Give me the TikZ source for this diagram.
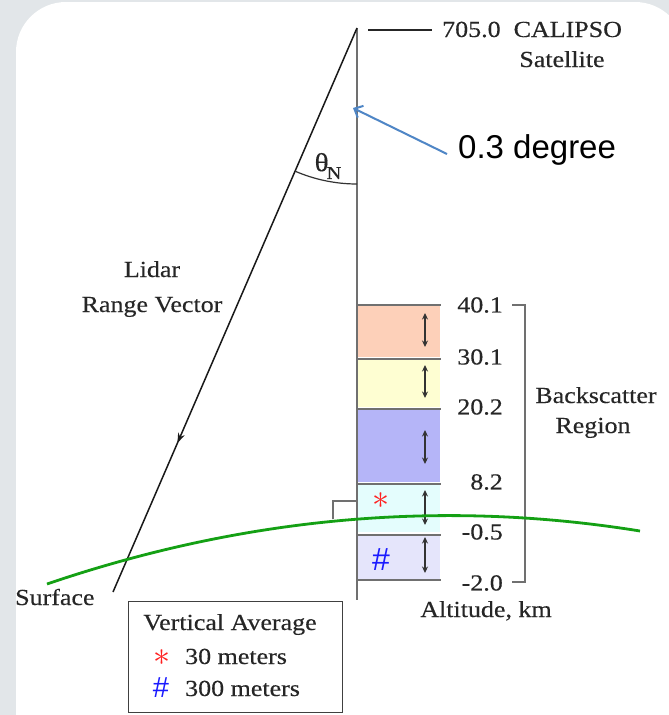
\documentclass[tikz,border=0pt]{standalone}
\usepackage{graphicx}
\usepackage{fontspec}
\newfontfamily\serifw{Liberation Serif}[FakeStretch=1.13,FakeBold=0.35]
\newfontfamily\sansf{Liberation Sans}
\usetikzlibrary{arrows.meta,decorations.markings}
\definecolor{bggray}{HTML}{E2E6E9}
\definecolor{txt}{HTML}{262626}
\definecolor{axisgray}{HTML}{707070}
\definecolor{bluearr}{HTML}{4F86C6}
\definecolor{surfgreen}{HTML}{14A014}
\definecolor{fillA}{HTML}{FDD0B9}
\definecolor{fillB}{HTML}{FEFED2}
\definecolor{fillC}{HTML}{B5B5F8}
\definecolor{fillD}{HTML}{E4FDFD}
\definecolor{fillE}{HTML}{E5E5FB}
\definecolor{redast}{HTML}{FF2020}
\definecolor{bluehash}{HTML}{1A1AFF}
\newcommand{\bigast}{\smash{\fontsize{10}{10}\selectfont\scalebox{3.4}{$\ast$}}}
\tikzset{
  lbl/.style={font=\serifw\fontsize{23}{26}\selectfont, inner sep=0pt, text=txt},
  sep/.style={draw=axisgray, line width=1.4pt},
  dbl/.style={{Stealth[length=6.5pt,width=6pt]}-{Stealth[length=6.5pt,width=6pt]}, line width=1.4pt, black!80},
  astk/.style={inner sep=0pt, text=redast, text height=16pt, text depth=0pt},
  hashk/.style={inner sep=0pt, text=bluehash, font=\sansf\fontsize{32}{32}\selectfont},
}
\begin{document}
\begin{tikzpicture}[x=1pt,y=1pt]
\useasboundingbox (0,0) rectangle (669,-715);
\clip (0,0) rectangle (669,-715);
\fill[bggray] (0,0) rectangle (669,-715);
\fill[white, rounded corners=50pt] (16,-2) rectangle (685,-780);

% boxes
\fill[fillA] (357,-305) rectangle (440,-357);
\fill[fillB] (357,-359) rectangle (440,-407);
\fill[fillC] (357,-409) rectangle (440,-482);
\fill[fillD] (357,-484) rectangle (440,-532);
\fill[fillE] (357,-535) rectangle (440,-580);
\foreach \yy in {305,359,409,484,535,580} {
  \draw[sep] (357,-\yy) -- (441,-\yy);
}

% main coordinates
\coordinate (apex) at (357,-28);
\coordinate (vbot) at (357,-600);
\coordinate (lidend) at (113,-592);
\coordinate (tickL) at (368,-30);
\coordinate (tickR) at (432,-30);

% vertical axis
\draw[axisgray, line width=2pt] (apex) -- (vbot);
\draw[black!85, line width=1.2pt] (tickL) -- (tickR);

% lidar vector
\draw[black!90, line width=1.5pt, postaction={decorate},
  decoration={markings, mark=at position 0.736 with {\arrow{Stealth[length=10pt,width=7pt]}}}]
  (apex) -- (lidend);

% angle arc
\draw[black!80, line width=1.2pt] (apex) ++(246.6:156) arc[start angle=246.6, end angle=270, radius=156];
\node[lbl, font=\serifw\fontsize{26}{26}\selectfont] (theta) at (328,-166) {θ\kern-2pt\raisebox{-0.3em}{\fontsize{18}{18}\selectfont N}};

% blue arrow
\coordinate (bluestart) at (447,-154);
\coordinate (bluetip) at (353,-108);
\draw[bluearr, line width=2pt, -{Straight Barb[length=7pt,width=13pt]}] (bluestart) -- (bluetip);
\node[anchor=base west, inner sep=0pt, font=\sansf\fontsize{33}{36}\selectfont] (deg) at (458,-158) {0.3 degree};

% satellite labels
\node[lbl, anchor=base west] (calipso) at (442,-37) {705.0~~CALIPSO};
\node[lbl, anchor=base] (sat) at (562,-67) {Satellite};

% lidar label
\node[lbl, anchor=base] (lid1) at (152,-277) {Lidar};
\node[lbl, anchor=base] (lid2) at (152,-312) {Range Vector};

% double arrows
\foreach \a/\b in {313/347, 365/398, 430/464, 490/525, 537/573} {
  \draw[dbl] (425,-\a) -- (425,-\b);
}

% altitude labels
\node[lbl, anchor=east] (a1) at (503,-305) {40.1};
\node[lbl, anchor=east] (a2) at (503,-357) {30.1};
\node[lbl, anchor=east] (a3) at (503,-407) {20.2};
\node[lbl, anchor=east] (a4) at (503,-482) {8.2};
\node[lbl, anchor=east] (a5) at (503,-532) {-0.5};
\node[lbl, anchor=east] (a6) at (503,-583) {-2.0};

% bracket
\coordinate (brT) at (512,-305);
\coordinate (brB) at (512,-582);
\draw[axisgray, line width=1.4pt] (brT) -- ++(13,0) |- (brB);
\node[lbl, anchor=base] (bs1) at (596,-403) {Backscatter};
\node[lbl, anchor=base] (bs2) at (593,-433) {Region};

% markers in boxes
\node[astk] (ast1) at (381,-500) {\bigast};
\node[hashk] (hash1) at (381,-560) {\#};

% right angle marker
\draw[axisgray, line width=1.3pt] (333,-519) -- (333,-501) -- (357,-501);

% surface curve
\coordinate (sL) at (47,-584);
\coordinate (sR) at (640,-531);
\draw[surfgreen, line width=2.8pt] (sL) .. controls (244.7,-516.7) and (442.3,-499.1) .. (sR);
\node[lbl, anchor=base west] (surf) at (15,-605) {Surface};

% altitude caption
\node[lbl, anchor=base] (alt) at (486,-617) {Altitude, km};

% legend
\node[draw=black!75, line width=1.3pt, fill=white, minimum width=214pt, minimum height=111pt, anchor=north west, inner sep=0pt] (legend) at (128,-601) {};
\node[lbl, anchor=base] (lg0) at (230,-630) {Vertical Average};
\node[astk] (ast2) at (162,-657) {\bigast};
\node[lbl, anchor=base west] (lg1) at (185,-664) {30 meters};
\node[hashk, font=\sansf\fontsize{29}{29}\selectfont] (hash2) at (161,-688) {\#};
\node[lbl, anchor=base west] (lg2) at (185,-696) {300 meters};
\end{tikzpicture}
\end{document}
